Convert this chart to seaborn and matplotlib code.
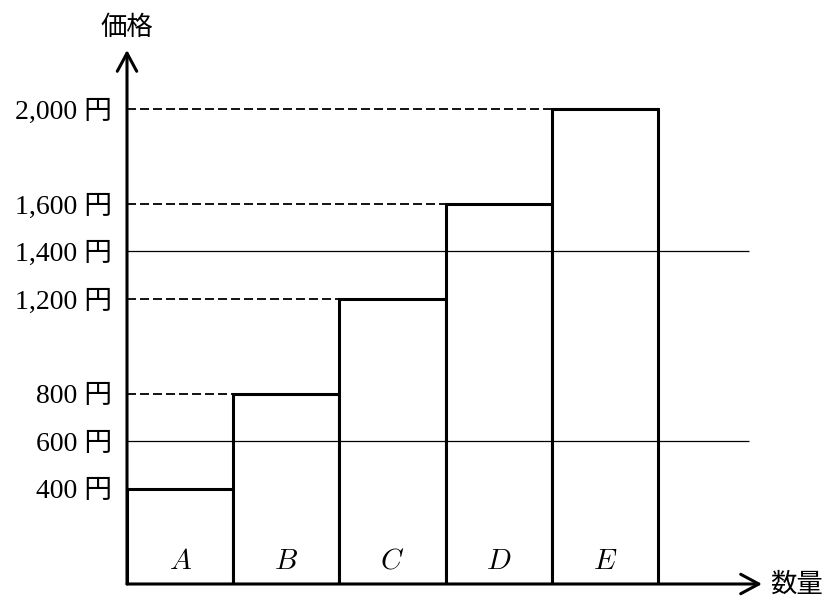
import matplotlib
matplotlib.use("Agg")
import matplotlib.pyplot as plt
import seaborn as sns

plt.rcParams['font.family'] = ['Liberation Serif', 'Noto Sans CJK JP']
plt.rcParams['mathtext.fontset'] = 'cm'

# データ
products = ['A', 'B', 'C', 'D', 'E']
prices = [400, 800, 1200, 1600, 2000]
ytick_values = [400, 600, 800, 1200, 1400, 1600, 2000]
ytick_labels = ['400 円', '600 円', '800 円', '1,200 円', '1,400 円', '1,600 円', '2,000 円']
ref_lines = [600, 1400]

fig = plt.figure(figsize=(8.35, 6), dpi=100)
ax = fig.add_axes([127 / 835, 16 / 600, 635 / 835, 534 / 600])

sns.barplot(x=products, y=prices, color='white', saturation=1, width=1.0,
            edgecolor='black', linewidth=2.2, ax=ax, zorder=2)

ax.set_xlim(-0.5, 5.479)
ax.set_ylim(0, 2248)

# 基準線 (実線)
ax.hlines(ref_lines, -0.5, 5.357, colors='black', linewidth=0.9, zorder=3)

# 破線 (軸から棒の左端まで)
for i, p in enumerate(prices):
    if i > 0:
        ax.hlines(p, -0.5, i - 0.5, colors='black', linewidth=1.3,
                  linestyles=(0, (5, 2.2)), zorder=3)

# 棒の中のラベル
for i, p in enumerate(products):
    ax.text(i, 93, f'${p}$', ha='center', va='center', fontsize=21, zorder=4)

# 軸
for s in ax.spines.values():
    s.set_visible(False)
ax.set_xticks([])
ax.set_yticks(ytick_values)
ax.set_yticklabels(ytick_labels, fontsize=20)
ax.tick_params(axis='y', length=0, pad=11)
ax.set_xlabel('')
ax.set_ylabel('')

arrow = dict(arrowstyle='->,head_length=0.65,head_width=0.35', lw=2.2,
             color='black', shrinkA=0, shrinkB=0, mutation_scale=20)
ax.annotate('', xy=(0, 1), xytext=(0, 0), xycoords='axes fraction',
            textcoords='axes fraction', arrowprops=arrow, zorder=5)
ax.annotate('', xy=(1, 0), xytext=(0, 0), xycoords='axes fraction',
            textcoords='axes fraction', arrowprops=arrow, zorder=5)

fig.text(127 / 835, 1 - 27 / 600, '価格', ha='center', va='center', fontsize=19,
         family='Noto Sans CJK JP')
fig.text(770 / 835, 1 - 584 / 600, '数量', ha='left', va='center', fontsize=19,
         family='Noto Sans CJK JP')

fig.savefig('out.png', dpi=100, facecolor='white')
